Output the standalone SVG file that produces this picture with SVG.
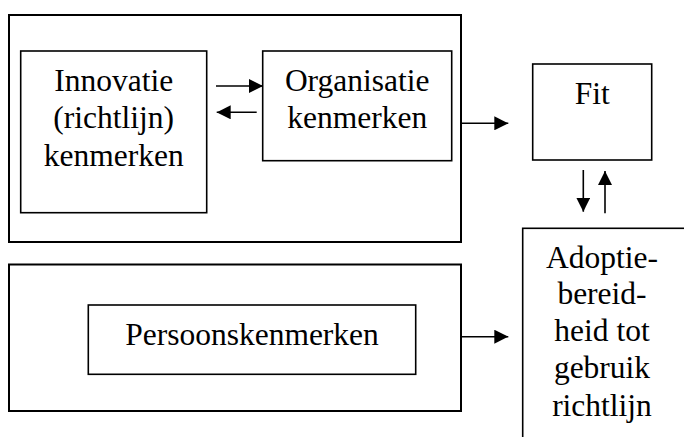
<svg xmlns="http://www.w3.org/2000/svg" width="684" height="437" viewBox="0 0 684 437">
<defs>
<marker id="ah" markerUnits="userSpaceOnUse" markerWidth="14" markerHeight="14" refX="14" refY="7" orient="auto">
<path d="M0,0 L14,7 L0,14 z" fill="#000"/>
</marker>
<style>
.outer{fill:#fff;stroke:#000;stroke-width:2}
.box{fill:#fff;stroke:#000;stroke-width:1.6}
.t{font-family:'Times New Roman','Liberation Serif',serif;font-size:31.5px;fill:#000;text-anchor:middle}
.c{stroke:#000;stroke-width:1.6;fill:none;marker-end:url(#ah)}
</style>
</defs>
<rect width="684" height="437" fill="#fff"/>
<g id="group-top"><rect class="outer" x="9" y="15" width="452" height="227"/></g>
<g id="group-bottom"><rect class="outer" x="9" y="264.5" width="452" height="146.5"/></g>
<g id="innovatie">
<rect class="box" x="20.7" y="51" width="186" height="161.7"/>
<text class="t" x="113.7" y="90.7">Innovatie</text>
<text class="t" x="113.7" y="128.2">(richtlijn)</text>
<text class="t" x="113.7" y="165.7">kenmerken</text>
</g>
<g id="organisatie">
<rect class="box" x="262.7" y="51" width="189" height="109.7"/>
<text class="t" x="357.2" y="90.7">Organisatie</text>
<text class="t" x="357.2" y="128.3">kenmerken</text>
</g>
<g id="fit">
<rect class="box" x="532.7" y="64" width="119" height="96"/>
<text class="t" x="592.2" y="104">Fit</text>
</g>
<g id="persoon">
<rect class="box" x="88.3" y="305" width="327.4" height="69.3"/>
<text class="t" x="252" y="345">Persoonskenmerken</text>
</g>
<g id="adoptie">
<rect class="box" x="522.7" y="228.3" width="170" height="220"/>
<text class="t" x="602" y="267.7">Adoptie-</text>
<text class="t" x="602" y="304">bereid-</text>
<text class="t" x="602" y="341.2">heid tot</text>
<text class="t" x="602" y="378.4">gebruik</text>
<text class="t" x="602" y="415.6">richtlijn</text>
</g>
<g id="connectors">
<line class="c" x1="216" y1="86" x2="263" y2="86"/>
<line class="c" x1="256.7" y1="112.3" x2="216.7" y2="112.3"/>
<line class="c" x1="461" y1="123.3" x2="508.3" y2="123.3"/>
<line class="c" x1="583.3" y1="170" x2="583.3" y2="211.7"/>
<line class="c" x1="605" y1="213.3" x2="605" y2="171"/>
<line class="c" x1="461" y1="336.7" x2="508.3" y2="336.7"/>
</g>
</svg>
